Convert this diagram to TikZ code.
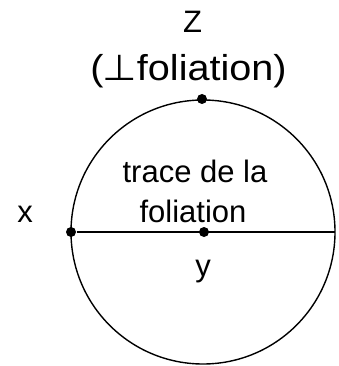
\documentclass[tikz,border=0pt]{standalone}
\usepackage{fontspec}
\setmainfont{Liberation Sans}
\newfontfamily\symbfont{DejaVu Sans}
\usepackage{tikz}
\usetikzlibrary{positioning}

\begin{document}
\begin{tikzpicture}[x=1pt, y=-1pt, line width=1.4pt, font=\fontsize{31}{36}\selectfont,
    dot/.style={circle, fill, inner sep=0pt, minimum size=10pt},
    lab/.style={anchor=base, inner sep=0pt}]
    \useasboundingbox (0,0) rectangle (338,366);
    \coordinate (c) at (203,232);
    \coordinate (e) at (335,232);
    \draw (c) circle (132);

    \node[dot] (xdot) at (71,232) {};
    \node[dot] (ydot) at (204,232) {};
    \node[dot] (zdot) at (202,99) {};
    \draw (xdot) -- (e);

    \node[lab] (zlab) at (192.5,33) {Z};
    \node[lab, font=\fontsize{36}{42}\selectfont, xscale=1.1] (perp) at (188.5,81)
        {({\symbfont\kern-1pt ⊥}foliation)};
    \node[lab] (trace1) at (195,182) {trace de la};
    \node[lab] (trace2) at (193,222) {foliation};
    \node[lab] (xlab) at (25,222) {x};
    \node[lab] (ylab) at (203,276) {y};
\end{tikzpicture}
\end{document}
